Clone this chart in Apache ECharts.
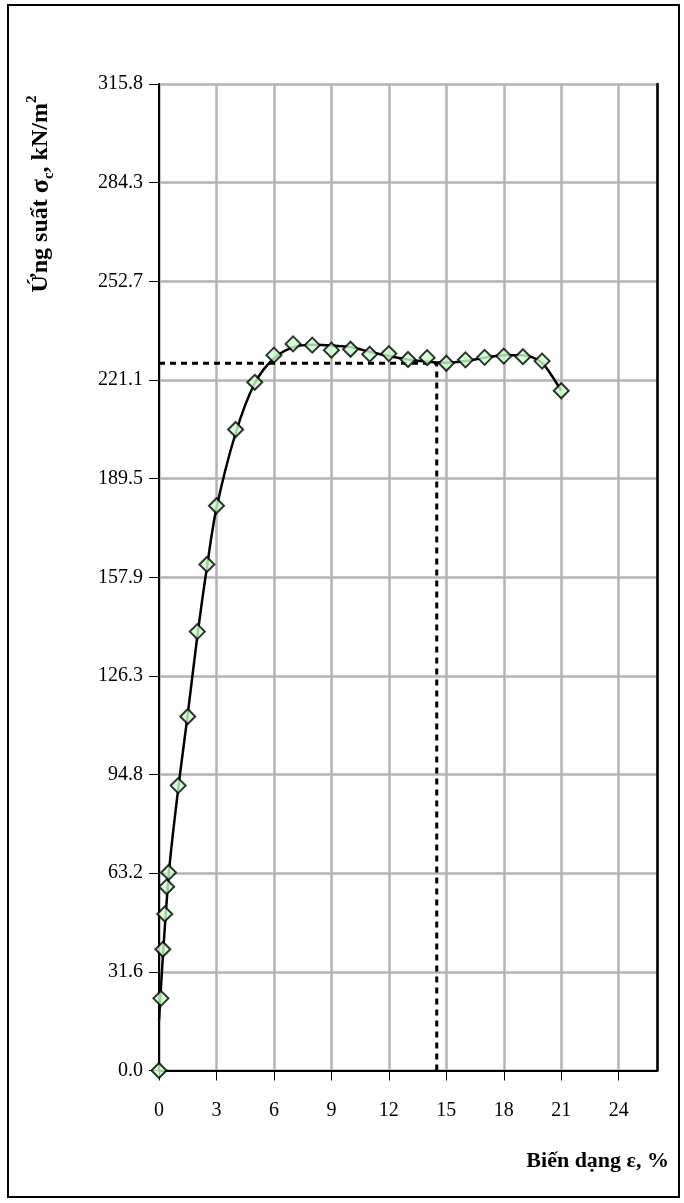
<!DOCTYPE html>
<html>
<head>
<meta charset="utf-8">
<script src="https://cdn.jsdelivr.net/npm/echarts@6/dist/echarts.min.js"></script>
<style>
html,body{margin:0;padding:0;background:#fff;}
#chart{width:684px;height:1203px;}
</style>
</head>
<body>
<div id="chart"></div>
<script>
// Measured data points: strain ε (%) and stress σc (kN/m²)
const strain = [0, 0.1, 0.2, 0.3, 0.4, 0.5, 1, 1.5, 2, 2.5, 3, 4, 5, 6, 7, 8, 9, 10, 11, 12, 13, 14, 15, 16, 17, 18, 19, 20, 21];
const stress = [0, 23.1, 38.8, 50.1, 58.8, 63.4, 91.2, 113.3, 140.5, 162.0, 180.8, 205.2, 220.3, 229.0, 232.6, 232.2, 230.6, 230.9, 229.3, 229.5, 227.6, 228.2, 226.4, 227.5, 228.3, 228.7, 228.5, 227.1, 217.6];

// Fitted curve
const curveStrain = [0, 0.5, 1, 1.5, 2, 2.5, 3, 4, 5, 6, 7, 8, 9, 10, 11, 12, 13, 14, 15, 16, 17, 18, 19, 19.5, 20, 20.5, 21];
const curveStress = [16, 62, 90, 114, 139, 161, 180, 204, 220, 228, 231.5, 232.3, 232.1, 231.5, 230.1, 228.7, 227.6, 226.9, 226.6, 227.1, 228.2, 229.0, 229.0, 228.3, 226.5, 222.5, 217.6];

// Reference (failure) point: dotted guide lines
const refStrain = 14.5;
const refStress = 226.4;

// Axis tick labels
const xTickLabels = ['0', '3', '6', '9', '12', '15', '18', '21', '24'];
const yTickLabels = ['0.0', '31.6', '63.2', '94.8', '126.3', '157.9', '189.5', '221.1', '252.7', '284.3', '315.8'];
const yStep = 31.58;
const xStep = 3;

const chart = echarts.init(document.getElementById('chart'));
const font = '"Liberation Serif", "Times New Roman", serif';

const pts = strain.map((x, i) => [x, stress[i]]);
const curve = curveStrain.map((x, i) => [x, curveStress[i]]);

const gridLine = { show: true, lineStyle: { color: '#b3b3b3', width: 2.5 } };

chart.setOption({
  animation: false,
  backgroundColor: '#fff',
  grid: { left: 159, right: 27, top: 84, bottom: 132.5 },
  xAxis: {
    type: 'value', min: 0, max: 26, interval: xStep,
    axisLine: { lineStyle: { color: '#000', width: 2 } },
    axisTick: { show: true, length: 10, inside: false, lineStyle: { color: '#000', width: 1 } },
    axisLabel: {
      margin: 30, color: '#000', fontFamily: font, fontSize: 20, showMaxLabel: false,
      formatter: v => { const i = Math.round(v / xStep); return xTickLabels[i] !== undefined ? xTickLabels[i] : ''; }
    },
    splitLine: gridLine
  },
  yAxis: [
    {
      type: 'value', min: 0, max: 315.8, interval: yStep,
      axisLine: { show: true, lineStyle: { color: '#000', width: 2 } },
      axisTick: { show: true, length: 10, lineStyle: { color: '#000', width: 1 } },
      axisLabel: {
        margin: 16, color: '#000', fontFamily: font, fontSize: 20,
        formatter: v => { const i = Math.round(v / yStep); return yTickLabels[i] !== undefined ? yTickLabels[i] : ''; }
      },
      splitLine: gridLine
    },
    {
      type: 'value', position: 'right', min: 0, max: 315.8, interval: yStep,
      axisLine: { show: true, lineStyle: { color: '#000', width: 2.5 } },
      axisTick: { show: false }, axisLabel: { show: false }, splitLine: { show: false }
    }
  ],
  series: [
    {
      type: 'line', data: [[0, refStress], [refStrain, refStress], [refStrain, 0]],
      showSymbol: false, symbol: 'none', silent: true,
      lineStyle: { color: '#000', width: 3, type: [6, 5] }, z: 3
    },
    {
      type: 'line', data: curve, smooth: 0.35, showSymbol: false, symbol: 'none',
      lineStyle: { color: '#000', width: 2.5 }, z: 4
    },
    {
      type: 'scatter', data: pts, symbol: 'diamond', symbolSize: [15, 15],
      itemStyle: { color: '#ccffcc', borderColor: '#000', borderWidth: 2 }, z: 5
    }
  ],
  graphic: [
    {
      type: 'rect', shape: { x: 8, y: 5, width: 671, height: 1192 },
      style: { fill: 'none', stroke: '#000', lineWidth: 2 }, z: 0, silent: true
    },
    {
      type: 'text', x: 669, y: 1161,
      style: {
        text: 'Biến dạng ε, %', font: 'bold 22px ' + font, fill: '#000',
        align: 'right', verticalAlign: 'middle'
      }
    },
    {
      type: 'text', x: 41, y: 194, rotation: Math.PI / 2,
      style: {
        text: 'Ứng suất {sig|σ}{sub|c}, kN/m{sup|2}',
        font: 'bold 24px ' + font, fill: '#000',
        align: 'center', verticalAlign: 'middle',
        rich: {
          sig: { font: 'bold 26px ' + font, fill: '#000', lineHeight: 32 },
          sub: { font: 'bold 15px ' + font, fill: '#000', verticalAlign: 'bottom', lineHeight: 32 },
          sup: { font: 'bold 15px ' + font, fill: '#000', verticalAlign: 'top', lineHeight: 32 }
        }
      }
    }
  ]
});
</script>
</body>
</html>
